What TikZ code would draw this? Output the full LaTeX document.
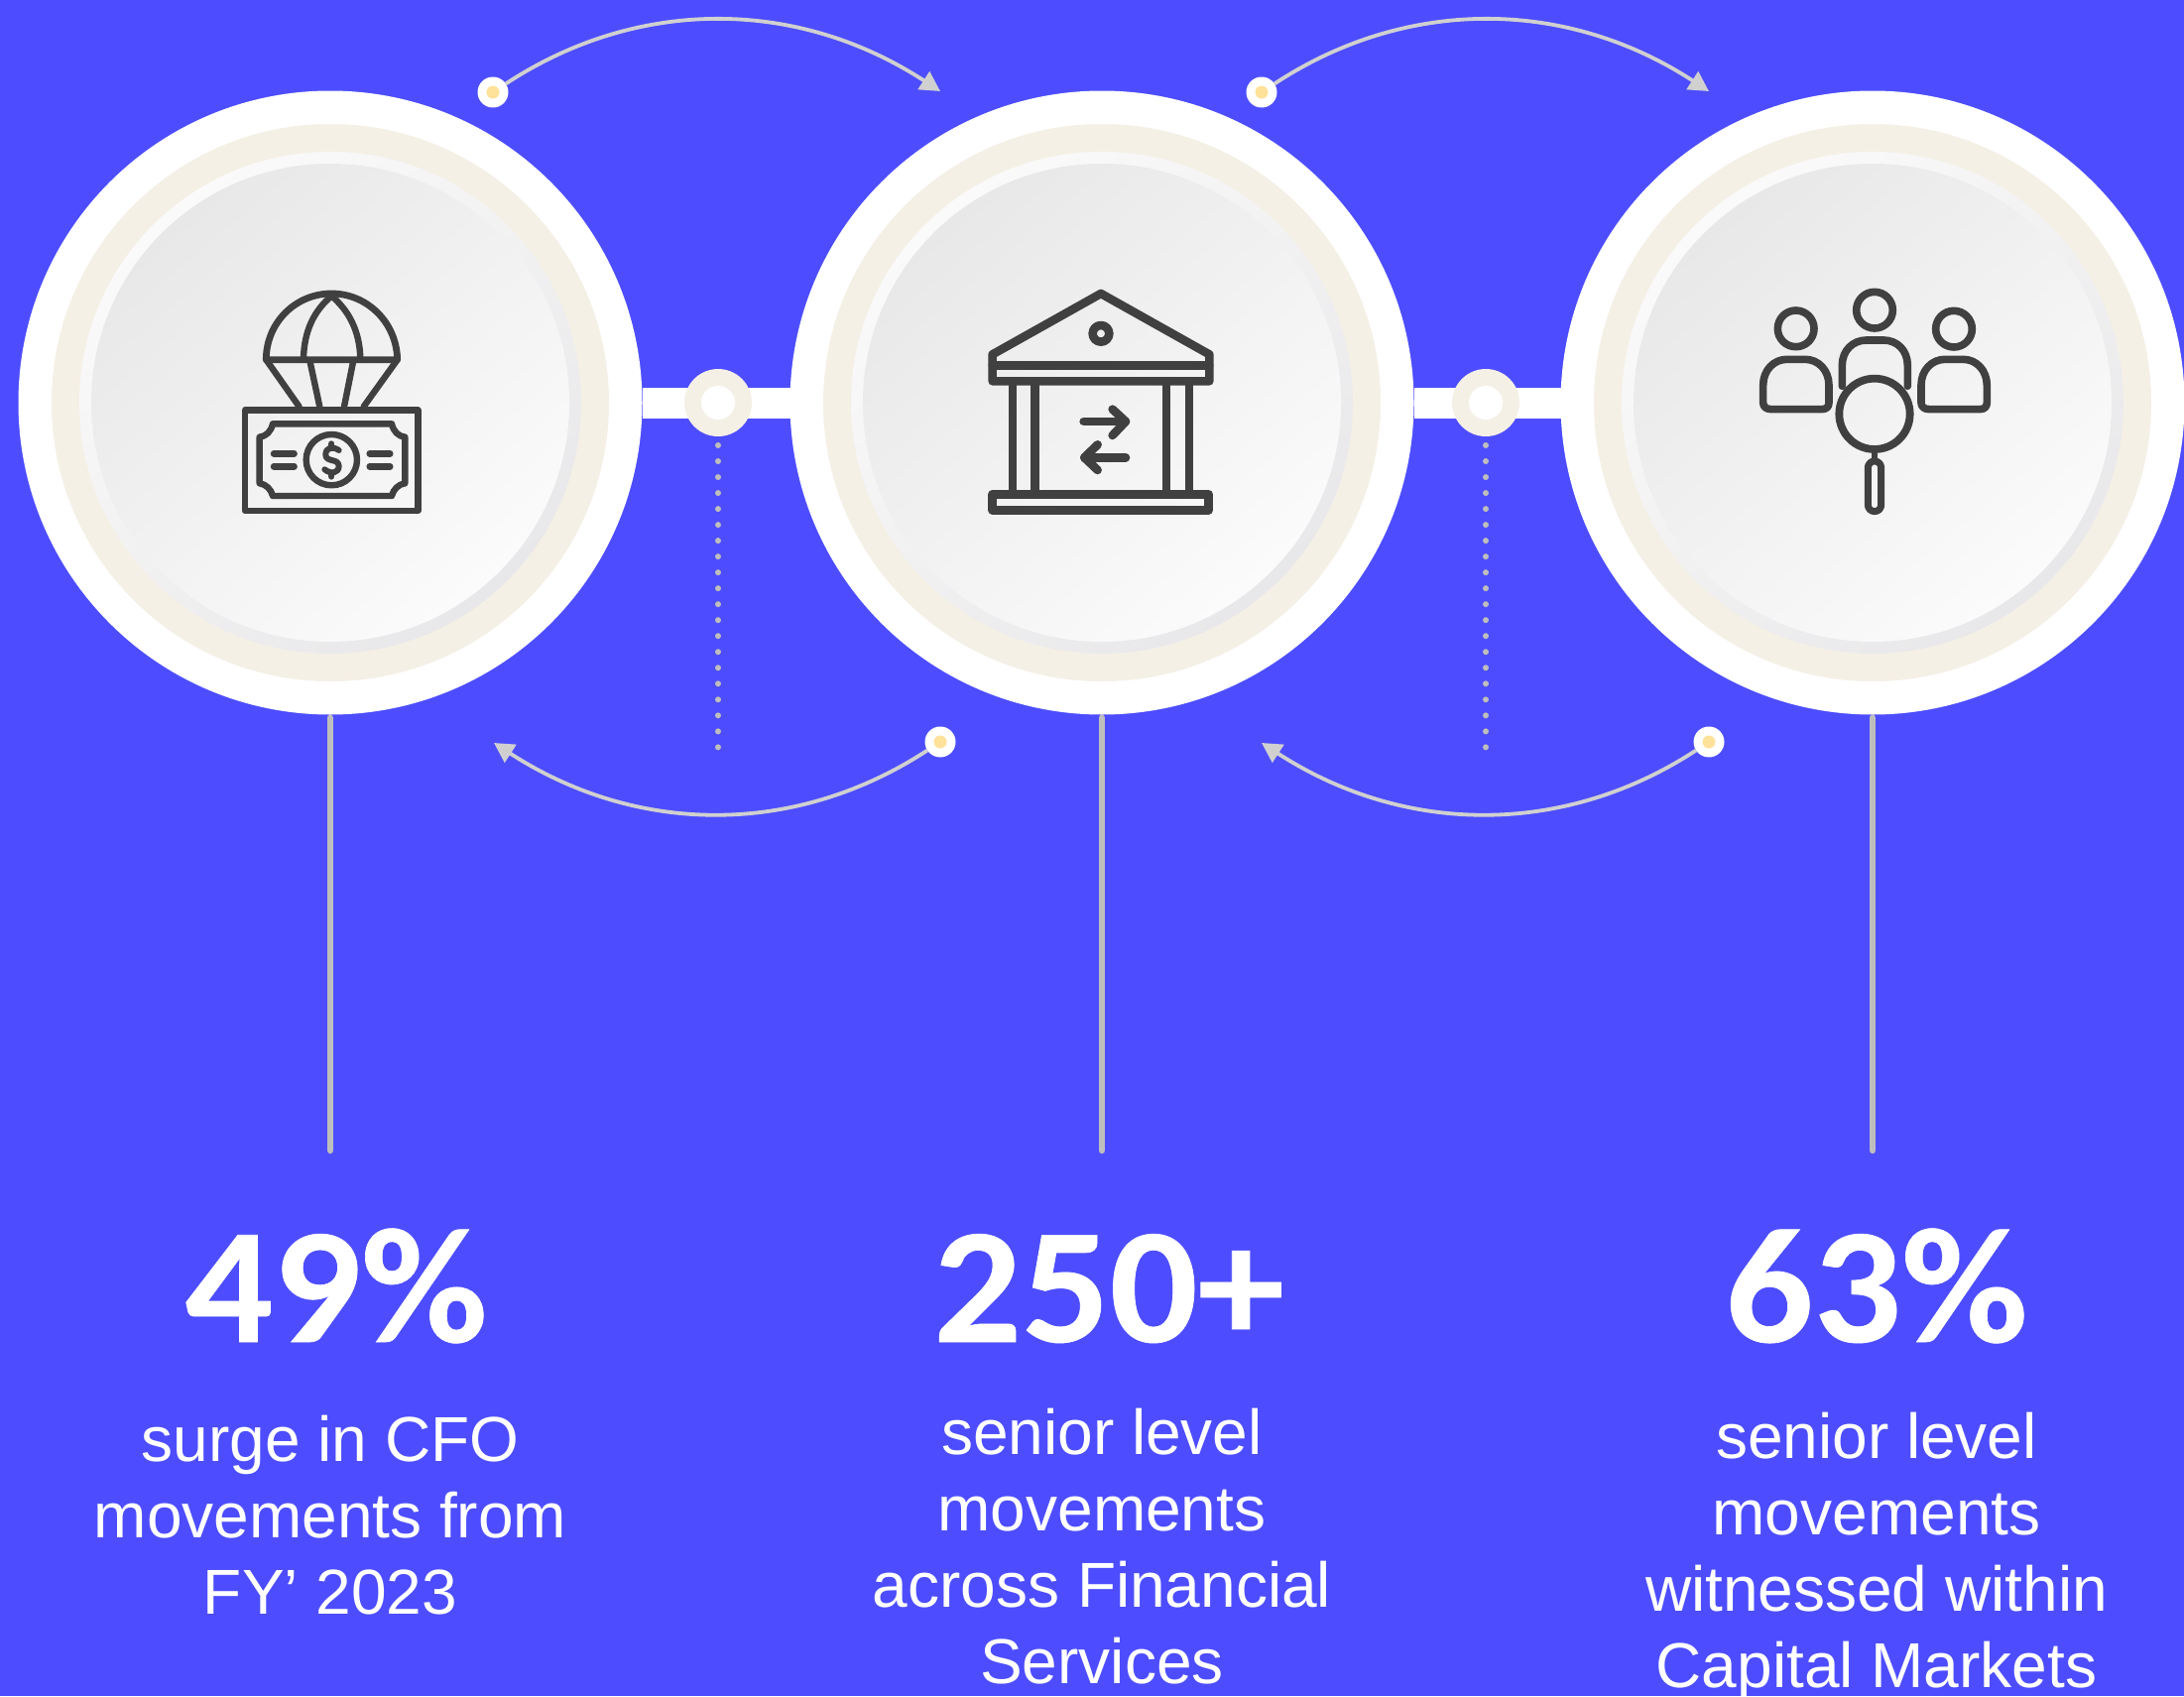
\documentclass[tikz,border=0pt]{standalone}
\usepackage{fontspec}
\setmainfont{Liberation Sans}
\newfontfamily\numfont[BoldFeatures={FakeStretch=1.055,FakeBold=0.4}]{Carlito}
\usetikzlibrary{arrows.meta}
\definecolor{bgblue}{HTML}{4D4DFF}
\definecolor{beige}{HTML}{F5F0E6}
\definecolor{icon}{HTML}{404040}
\definecolor{arc}{HTML}{D0D0D0}
\definecolor{stem}{HTML}{BEBEBE}
\definecolor{dotc}{HTML}{BEBEBE}
\definecolor{yolk}{HTML}{FFE29A}
\definecolor{ringa}{HTML}{FAFAFA}
\definecolor{ringb}{HTML}{E8E8EA}
\definecolor{facea}{HTML}{E8E8E8}
\definecolor{faceb}{HTML}{FBFBFB}
\tikzset{
  disc/.style={circle,inner sep=0pt,outer sep=0pt,minimum size=#1},
  outerdisc/.style={disc=629pt,fill=white},
  beigedisc/.style={disc=562pt,fill=beige},
  ringdisc/.style={disc=506pt,shading=axis,top color=ringa,bottom color=ringb,shading angle=40},
  facedisc/.style={disc=482pt,shading=axis,top color=facea,bottom color=faceb,shading angle=40},
  hubout/.style={disc=68pt,fill=beige},
  hubin/.style={disc=34pt,fill=white},
  startdot/.style={disc=31pt,fill=white},
  yolkdot/.style={disc=13pt,fill=yolk},
  bar/.style={white,line width=31pt},
  stemline/.style={stem,line width=6.4pt,line cap=round,shorten <=3.2pt},
  dots/.style={dotc,line width=6pt,line cap=round,dash pattern=on 0.01pt off 16.01pt},
  arcline/.style={arc,line width=3.8pt,-{Triangle[length=20pt,width=21pt]}},
  ic/.style={draw=icon,line join=round,line cap=round},
  bignum/.style={white,font=\numfont\bfseries\fontsize{166}{166}\selectfont,anchor=base},
  body/.style={white,font=\fontsize{64}{77}\selectfont,align=center,anchor=center},
}
\begin{document}
\begin{tikzpicture}[x=1pt,y=-1pt]
\path[fill=bgblue,use as bounding box] (0,0) rectangle (2202,1710);
% big circles
\foreach \n/\cx in {1/333,2/1111,3/1888}{
  \node[outerdisc] (o\n) at (\cx,406) {};
  \node[beigedisc] (b\n) at (\cx,406) {};
  \node[ringdisc] (r\n) at (\cx,406) {};
  \node[facedisc] (i\n) at (\cx,406) {};
  \coordinate (e\n) at (\cx,1160);
  \draw[stemline] (o\n) -- (e\n);
}
% bars and hubs
\foreach \n/\hx/\l/\r in {1/724/1/2,2/1498/2/3}{
  \coordinate (hc\n) at (\hx,406);
  \draw[bar] (o\l) -- (hc\n);
  \draw[bar] (hc\n) -- (o\r);
  \node[hubout] (h\n) at (hc\n) {};
  \node[hubin] (hi\n) at (hc\n) {};
  \coordinate (da\n) at (\hx,449);
  \coordinate (db\n) at (\hx,756);
  \draw[dots] (da\n) -- (db\n);
}
% arcs over the circles
\foreach \n/\sx/\tx in {1/497/948,2/1272/1723}{
  \node[startdot] (s\n) at (\sx,93) {};
  \node[yolkdot] (y\n) at (\sx,93) {};
  \coordinate (t\n) at (\tx,92);
  \draw[arcline] (s\n) .. controls +(145,-95.5) and +(-145,-94.5) .. (t\n);
}
% arcs under the circles
\foreach \n/\sx/\tx in {3/948/498,4/1723/1272}{
  \node[startdot] (s\n) at (\sx,748) {};
  \node[yolkdot] (y\n) at (\sx,748) {};
  \coordinate (t\n) at (\tx,749);
  \draw[arcline] (s\n) .. controls +(-145,95) and +(145,94) .. (t\n);
}
% icon 1: parachute and banknote
\begin{scope}[shift={(200,250)},x=0.3333pt,y=-0.3333pt]
  \draw[ic,line width=6.8pt] (205,338) .. controls (205,225) and (295,138) .. (403,138)
     .. controls (510,138) and (600,225) .. (602,338) -- cycle;
  \draw[ic,line width=6.4pt] (403,145) .. controls (350,190) and (320,250) .. (318,335);
  \draw[ic,line width=6.4pt] (403,145) .. controls (455,190) and (488,250) .. (490,335);
  \draw[ic,line width=6.4pt] (205,338) -- (305,480);
  \draw[ic,line width=6.4pt] (602,338) -- (500,480);
  \draw[ic,line width=6.4pt] (338,345) -- (367,480);
  \draw[ic,line width=6.4pt] (468,345) -- (441,480);
  \draw[ic,line width=6.4pt] (141,490) rectangle (664,795);
  \draw[ic,line width=6.4pt] (225,532) -- (585,532) .. controls (590,555) and (605,570) .. (625,572)
     -- (625,712) .. controls (605,715) and (590,730) .. (585,750) -- (225,750)
     .. controls (220,730) and (205,715) .. (185,712) -- (185,572)
     .. controls (205,570) and (220,555) .. (225,532) -- cycle;
  \draw[ic,line width=6.4pt] (403,641) circle[radius=77];
  \foreach \ya in {622,661}{
    \draw[ic,line width=6.4pt] (228,\ya) -- (290,\ya);
    \draw[ic,line width=6.4pt] (518,\ya) -- (580,\ya);
  }
  \draw[ic,line width=6pt] (425,612) .. controls (405,598) and (385,605) .. (385,625)
     .. controls (385,650) and (425,635) .. (425,660) .. controls (425,682) and (400,685) .. (382,670);
  \draw[ic,line width=6pt] (403,592) -- (403,602);
  \draw[ic,line width=6pt] (403,682) -- (403,692);
\end{scope}
% icon 2: bank with arrows
\begin{scope}[shift={(960,260)},x=0.3333pt,y=-0.3333pt]
  \draw[ic,line width=8.6pt] (450,108) -- (778,292) -- (778,373) -- (122,373) -- (122,292) -- cycle;
  \draw[ic,line width=8.4pt] (122,325) -- (778,325);
  \draw[ic,line width=8.6pt] (450,229) circle[radius=25];
  \foreach \xa in {183,251,648,717}{
    \draw[ic,line width=8.6pt] (\xa,385) -- (\xa,705);
  }
  \draw[ic,line width=8.6pt] (122,715) rectangle (776,763);
  \draw[ic,line width=8.6pt] (398,495) -- (525,495);
  \draw[ic,line width=8.6pt] (485,458) -- (525,495) -- (485,537);
  \draw[ic,line width=8.6pt] (525,604) -- (400,604);
  \draw[ic,line width=8.6pt] (440,565) -- (400,604) -- (440,642);
\end{scope}
% icon 3: people and magnifier
\begin{scope}[shift={(1740,260)},x=0.3333pt,y=-0.3333pt]
  \draw[ic,line width=7.6pt] (212,214) circle[radius=55];
  \draw[ic,line width=7.6pt] (450,158) circle[radius=55];
  \draw[ic,line width=7.6pt] (690,215) circle[radius=55];
  \foreach \dx in {0,478}{
    \begin{scope}[xshift=\dx*0.3333pt]
      \draw[ic,line width=7.6pt] (138,458) -- (290,458) .. controls (305,458) and (312,450) .. (312,438)
        -- (312,385) .. controls (312,340) and (280,307) .. (240,307) -- (185,307)
        .. controls (145,307) and (113,340) .. (113,385) -- (113,438)
        .. controls (113,450) and (122,458) .. (138,458) -- cycle;
    \end{scope}
  }
  \draw[ic,line width=7.6pt] (352,388) -- (352,325) .. controls (352,280) and (385,249) .. (425,249)
     -- (478,249) .. controls (518,249) and (550,280) .. (550,325) -- (550,388);
  \draw[ic,line width=7.8pt] (450,472) circle[radius=107];
  \draw[ic,line width=6.4pt] (450,580) -- (450,610);
  \draw[ic,line width=7pt,rounded corners=6.6pt] (430,615) rectangle (470,767);
\end{scope}
% figures
\node[bignum] (n1) at (339,1353) {49\%};
\node[bignum] (n2) at (1118,1353) {250+};
\node[bignum] (n3) at (1892,1353) {63\%};
% captions
\node[body] (c1) at (333,1528) {surge in CFO\\movements from\\FY’ 2023};
\node[body] (c2) at (1111,1559) {senior level\\movements\\across Financial\\Services};
\node[body] (c3) at (1892,1569) {senior level\\movements\\witnessed within\\Capital Markets};
\end{tikzpicture}
\end{document}
